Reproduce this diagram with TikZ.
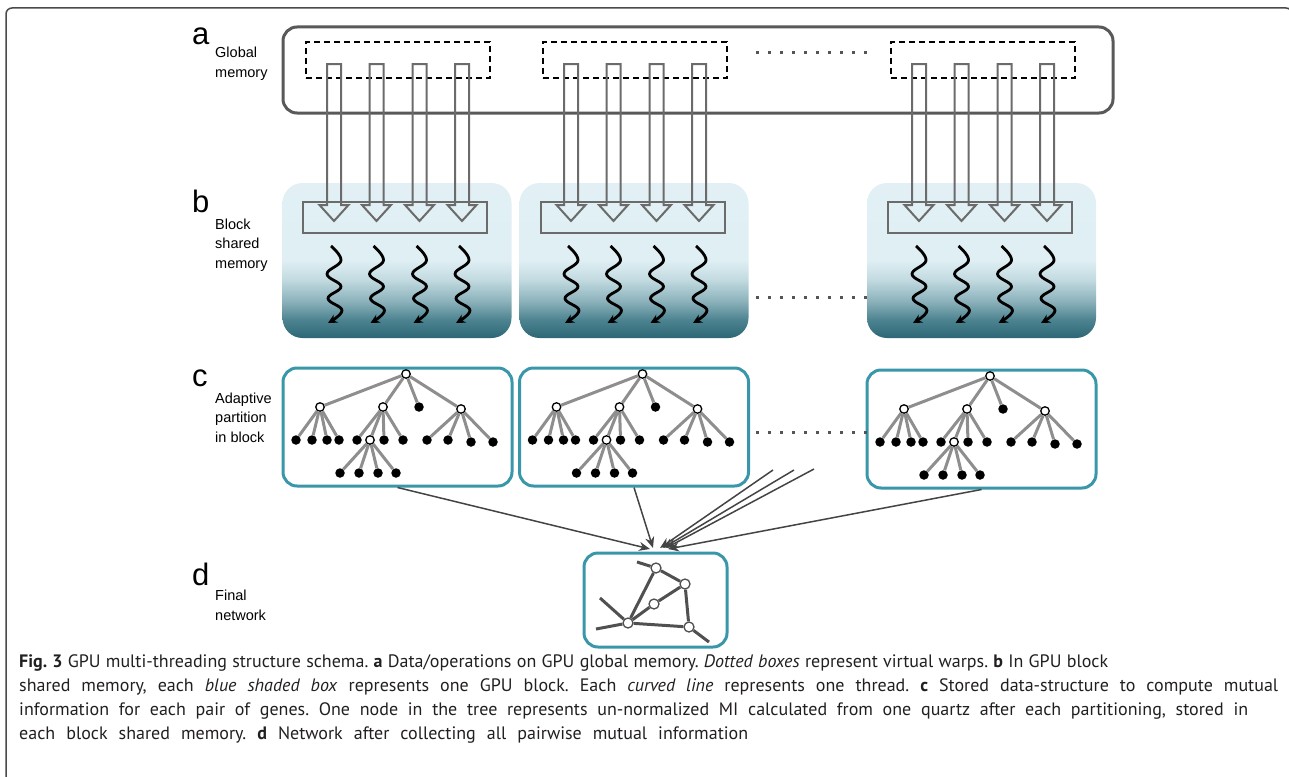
\documentclass[tikz,border=0pt]{standalone}
\usepackage{fontspec}
\setmainfont{Liberation Sans}
\newfontfamily\capfont{PT Sans}
\usepackage{tikz}
\usetikzlibrary{positioning, calc, arrows.meta}

\definecolor{frameGrey}{HTML}{4A4A4A}
\definecolor{memGrey}{HTML}{595959}
\definecolor{pipeGrey}{HTML}{6B6B6B}
\definecolor{tealLine}{HTML}{3A97A9}
\definecolor{branchGrey}{HTML}{8E8E8E}
\definecolor{netGrey}{HTML}{505050}
\definecolor{linkGrey}{HTML}{444444}
\definecolor{dotGrey}{HTML}{555555}
\definecolor{capText}{HTML}{231F20}
\definecolor{blockDark}{HTML}{2C6675}
\definecolor{blockMid}{HTML}{4E8491}
\definecolor{blockSoft}{HTML}{8DB3BC}
\definecolor{blockPale}{HTML}{C3DBE1}
\definecolor{blockLight}{HTML}{DFEFF4}
\definecolor{blockTop}{HTML}{E2F0F5}

\pgfdeclareverticalshading{blockShade}{100bp}{color(0bp)=(blockDark); color(25bp)=(blockDark); color(31bp)=(blockMid); color(37bp)=(blockSoft); color(44bp)=(blockPale); color(50bp)=(blockLight); color(75bp)=(blockTop); color(100bp)=(blockTop)}

\newcommand{\capline}[2]{\makebox[#1pt][s]{#2}}

\tikzstyle{tag}=[inner sep=0, font=\fontsize{31}{31}\selectfont]
\tikzstyle{note}=[inner sep=0, align=left, font=\fontsize{14.5}{19.5}\selectfont]
\tikzstyle{globalBox}=[draw=memGrey, line width=3pt, rounded corners=14pt, minimum width=830pt, minimum height=86pt]
\tikzstyle{warpBox}=[draw=black, line width=1.4pt, dash pattern=on 6pt off 4pt, minimum width=184pt, minimum height=36pt]
\tikzstyle{blockBox}=[shading=blockShade, rounded corners=20pt, minimum width=229pt, minimum height=155pt]
\tikzstyle{sharedBar}=[draw=pipeGrey, line width=2pt, minimum width=184pt, minimum height=31pt]
\tikzstyle{warpArrow}=[draw=pipeGrey, line width=2pt, line join=miter]
\tikzstyle{threadArrow}=[-{Stealth[length=9pt, width=9pt]}, line width=2.8pt, black]
\tikzstyle{partBox}=[draw=tealLine, line width=3pt, rounded corners=14pt, minimum width=229pt, minimum height=118pt]
\tikzstyle{innerNode}=[circle, draw=black, fill=white, line width=1.3pt, inner sep=0, minimum size=8.5pt]
\tikzstyle{leafNode}=[circle, fill=black, inner sep=0, minimum size=9.5pt]
\tikzstyle{branchLine}=[draw=branchGrey, line width=3pt]
\tikzstyle{netNode}=[circle, draw=netGrey, fill=white, line width=1.3pt, inner sep=0, minimum size=10pt]
\tikzstyle{netLine}=[draw=netGrey, line width=3pt]
\tikzstyle{linkArrow}=[-{Stealth[length=11pt, width=9pt]}, draw=linkGrey, line width=1.5pt]
\tikzstyle{dotsLine}=[draw=dotGrey, line width=3pt, dash pattern=on 3pt off 9pt]

\begin{document}
\begin{tikzpicture}[x=1pt, y=-1pt]
  \useasboundingbox (0,0) rectangle (1289,776);
  \clip (0,0) rectangle (1289,776);
  \draw[frameGrey, line width=1.5pt, rounded corners=6pt] (6,8) rectangle (1292,800);

  % a: global memory and warps
  \node[tag, anchor=base west] (tagA) at (192,45) {a};
  \node[note, anchor=base west] (noteA) at (215,77.5) {Global\\memory};
  \node[globalBox] (global) at (698,70) {};
  \node[warpBox] (warp1) at (398,60) {};
  \node[warpBox] (warp2) at (635,60) {};
  \node[warpBox] (warp3) at (983,60) {};
  \draw[dotsLine] (756,53) -- (868,53);

  % b: blocks with shared memory
  \node[tag, anchor=base west] (tagB) at (192,212) {b};
  \node[note, anchor=base west] (noteB) at (215,268) {Block\\shared\\memory};
  \node[blockBox] (block1) at (397,260.5) {};
  \node[blockBox] (block2) at (634,260.5) {};
  \node[blockBox] (block3) at (981.5,260.5) {};
  \node[sharedBar] (bar1) at (395,217.5) {};
  \node[sharedBar] (bar2) at (632.5,217.5) {};
  \node[sharedBar] (bar3) at (980,217.5) {};
  \draw[dotsLine] (756,297) -- (868,297);

  \foreach \w in {1,2,3}{
    \foreach \dx in {-64,-21.5,21.5,64}{
      \draw[warpArrow] ($(warp\w.center)+(\dx,4)$) ++(-7,0) -- ++(14,0)
        -- ++(0,141) -- ++(7.5,0) -- ++(-14.5,16) -- ++(-14.5,-16)
        -- ++(7.5,0) -- cycle;
      \begin{scope}[shift={($(warp\w.center|-block\w.center)+(\dx,0)$)}]
        \draw[threadArrow] plot[smooth, tension=0.7] coordinates
          {(-3,-14.5) (7,0) (-7,13.5) (7,26) (-6,38) (8,50) (-6,62.5)};
      \end{scope}
    }
  }

  % c: adaptive partition trees
  \node[tag, anchor=base west] (tagC) at (192,386) {c};
  \node[note, anchor=base west] (noteC) at (215,442) {Adaptive\\partition\\in block};
  \node[partBox] (part1) at (397.5,427) {};
  \node[partBox] (part2) at (634,427) {};
  \node[partBox] (part3) at (981.5,429) {};
  \draw[dotsLine] (756,432) -- (868,432);

  \foreach \i in {1,2,3}{
    \begin{scope}[shift={(part\i.center)}, name prefix=t\i-]
      \node[innerNode] (root) at (8.5,-53) {};
      \node[innerNode] (a) at (-77.5,-20) {};
      \node[innerNode] (b) at (-14.5,-20) {};
      \node[leafNode] (c) at (21.5,-20) {};
      \node[innerNode] (d) at (63.5,-18) {};
      \node[innerNode] (e) at (-27.5,13) {};
      \foreach \n/\x/\y in {a1/-101.5/13, a2/-85.5/13, a3/-70.5/13, a4/-58.5/13,
          b1/-40.5/13, b3/-13.5/13, b4/5.5/13, d1/29.5/13, d2/50.5/13,
          d3/73.5/15, d4/95.5/15, e1/-57.5/46, e2/-38.5/46, e3/-19.5/46, e4/-1.5/46}
        \node[leafNode] (\n) at (\x,\y) {};
      \foreach \p/\q in {root/a, root/b, root/c, root/d, a/a1, a/a2, a/a3, a/a4,
          b/b1, b/e, b/b3, b/b4, d/d1, d/d2, d/d3, d/d4, e/e1, e/e2, e/e3, e/e4}
        \draw[branchLine] (\p) -- (\q);
    \end{scope}
  }

  % d: final network
  \node[tag, anchor=base west] (tagD) at (192,585) {d};
  \node[note, anchor=base west] (noteD) at (215,620) {Final\\network};
  \node[partBox, minimum width=143pt, minimum height=94pt] (final) at (655.5,600) {};
  \begin{scope}[shift={(final.center)}]
    \node[netNode] (n1) at (0.5,-32) {};
    \node[netNode] (n2) at (29.5,-16) {};
    \node[netNode] (n3) at (-1.5,4) {};
    \node[netNode] (n4) at (-27.5,23) {};
    \node[netNode] (n5) at (33.5,27) {};
    \coordinate (end1) at (-18.5,-38);
    \coordinate (end2) at (53.5,42);
    \coordinate (end3) at (-55.5,-2);
    \coordinate (end4) at (-59.5,29);
  \end{scope}
  \foreach \p/\q in {n1/n2, n1/n4, n2/n3, n3/n4, n2/n5, n4/n5, n1/end1, n5/end2, n4/end3, n4/end4}
    \draw[netLine] (\p) -- (\q);

  % collecting the partitions
  \coordinate (sink) at (657,549);
  \coordinate (loose1) at (773,470);
  \coordinate (loose2) at (794,470);
  \coordinate (loose3) at (814,469);
  \draw[linkArrow] (part1.south) -- ($(sink)+(-7,0)$);
  \draw[linkArrow] (part2.south) -- ($(sink)+(-4,-1)$);
  \draw[linkArrow] (loose1) -- ($(sink)+(3,-1)$);
  \draw[linkArrow] (loose2) -- ($(sink)+(6,-1)$);
  \draw[linkArrow] (loose3) -- ($(sink)+(9,-1)$);
  \draw[linkArrow] (part3.south) -- ($(sink)+(11,0)$);

  \node[anchor=base west, inner sep=0, align=left, text=capText,
    font=\capfont\fontsize{18}{24}\selectfont\frenchspacing] (caption) at (19,739)
    {\capline{1089}{\textbf{Fig. 3} GPU multi-threading structure schema. \textbf{a} Data/operations on GPU global memory. \textit{Dotted boxes} represent virtual warps. \textbf{b} In GPU block}\\
     \capline{1259}{shared memory, each \textit{blue shaded box} represents one GPU block. Each \textit{curved line} represents one thread. \textbf{c} Stored data-structure to compute mutual}\\
     \capline{1229}{information for each pair of genes. One node in the tree represents un-normalized MI calculated from one quartz after each partitioning, stored in}\\
     \capline{729}{each block shared memory. \textbf{d} Network after collecting all pairwise mutual information}};
\end{tikzpicture}
\end{document}
